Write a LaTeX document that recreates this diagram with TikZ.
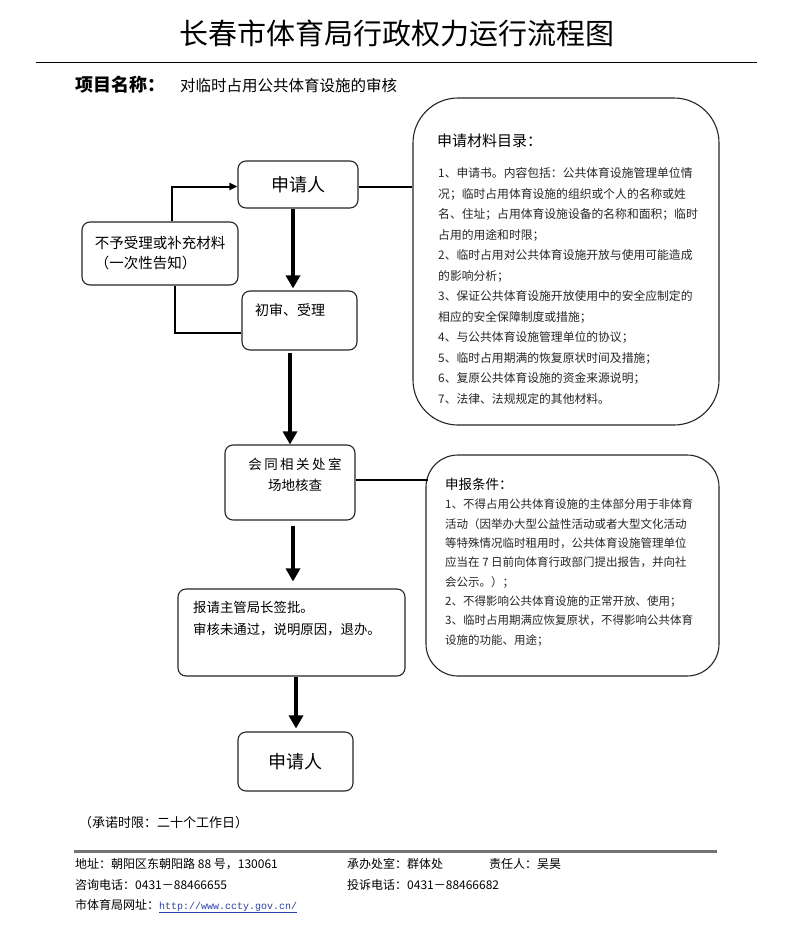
\documentclass[tikz,border=0pt]{standalone}
\usepackage{fontspec}
\setmainfont{Noto Sans CJK SC}
\newfontfamily\urlfont{Liberation Mono}
\usetikzlibrary{arrows.meta,calc}
\newcommand\myfs[2]{\fontsize{#1}{#2}\selectfont}
\definecolor{linkblue}{HTML}{2B3FA8}
\tikzset{
  flowbox/.style={draw=black!85, line width=1.1pt, rounded corners=8pt, inner sep=0pt},
  bigbox/.style={draw=black!85, line width=1.1pt, inner sep=0pt},
  txt/.style={inner sep=0pt, text=black},
  thickarrow/.style={line width=4pt, -{Triangle[length=13pt,width=14pt]}},
  thinline/.style={line width=2pt},
  thinarrow/.style={line width=2pt, -{Triangle[length=8pt,width=7pt]}},
}
\begin{document}
\begin{tikzpicture}[x=1pt,y=-1pt]
\useasboundingbox (0,0) rectangle (792,948);
\fill[white] (0,0) rectangle (792,948);

% title and header
\node[txt, font=\myfs{29}{32}] (title) at (397,33) {长春市体育局行政权力运行流程图};
\draw[line width=1pt] (36,62) -- (757,62);
\node[txt, anchor=west, font=\myfs{18}{20}\bfseries] (projlabel) at (75,85) {项目名称：};
\node[txt, anchor=west, font=\myfs{15.5}{18}] (projname) at (180,86) {对临时占用公共体育设施的审核};

% flow boxes
\node[flowbox, minimum width=120pt, minimum height=47pt, font=\myfs{18}{20}] (app1) at (298,184.5) {申请人};
\node[flowbox, minimum width=156pt, minimum height=63pt, align=left, font=\myfs{14.5}{20}] (reject) at (160,253.5) {不予受理或补充材料\\（一次性告知）};
\node[flowbox, minimum width=115pt, minimum height=59pt] (review) at (299.5,320.5) {};
\node[txt, anchor=west, font=\myfs{14}{16}] (reviewtxt) at (255,310) {初审、受理};
\node[flowbox, minimum width=130pt, minimum height=75pt] (merge) at (290,482.5) {};
\node[txt, align=center, font=\myfs{13.5}{21}] (mergetxt) at (295,474.5) {会\hspace{2.5pt}同\hspace{2.5pt}相\hspace{2.5pt}关\hspace{2.5pt}处\hspace{2.5pt}室\\场地核查};
\node[flowbox, minimum width=227pt, minimum height=87pt] (report) at (291.5,632.5) {};
\node[txt, anchor=west, align=left, font=\myfs{13.4}{22}] (reporttxt) at (193,619) {报请主管局长签批。\\审核未通过，说明原因，退办。};
\node[flowbox, minimum width=115pt, minimum height=59pt, font=\myfs{18}{20}] (app2) at (295.5,761.5) {申请人};

% materials box
\node[bigbox, rounded corners=45pt, minimum width=306pt, minimum height=327pt] (mat) at (566,261.5) {};
\node[txt, anchor=west, font=\myfs{15}{18}] (mattitle) at (437,141) {申请材料目录：};
\node[txt, anchor=west, align=left, text=black!85, font=\myfs{11.8}{20.5}] (mattxt) at (438,286) {%
1、申请书。内容包括：公共体育设施管理单位情\\
况；临时占用体育设施的组织或个人的名称或姓\\
名、住址；占用体育设施设备的名称和面积；临时\\
占用的用途和时限；\\
2、临时占用对公共体育设施开放与使用可能造成\\
的影响分析；\\
3、保证公共体育设施开放使用中的安全应制定的\\
相应的安全保障制度或措施；\\
4、与公共体育设施管理单位的协议；\\
5、临时占用期满的恢复原状时间及措施；\\
6、复原公共体育设施的资金来源说明；\\
7、法律、法规规定的其他材料。};

% conditions box
\node[bigbox, rounded corners=32pt, minimum width=293pt, minimum height=221pt] (cond) at (572.5,565.5) {};
\node[txt, anchor=west, font=\myfs{13.5}{16}] (condtitle) at (445,484) {申报条件：};
\node[txt, anchor=west, align=left, text=black!85, font=\myfs{11.5}{19.3}] (condtxt) at (445,572.5) {%
1、不得占用公共体育设施的主体部分用于非体育\\
活动（因举办大型公益性活动或者大型文化活动\\
等特殊情况临时租用时，公共体育设施管理单位\\
应当在 7 日前向体育行政部门提出报告，并向社\\
会公示。）；\\
2、不得影响公共体育设施的正常开放、使用；\\
3、临时占用期满应恢复原状，不得影响公共体育\\
设施的功能、用途；};

% connectors
\coordinate (xa) at (293,0);
\coordinate (xb) at (290,0);
\coordinate (xc) at (293,0);
\coordinate (xd) at (296,0);
\coordinate (xe) at (172,0);
\coordinate (xf) at (175,0);
\draw[thickarrow, shorten >=2pt] (app1.south -| xa) -- (review.north -| xa);
\draw[thickarrow, shorten <=2pt] (review.south -| xb) -- (merge.north -| xb);
\draw[thickarrow, shorten <=5pt, shorten >=7pt] (merge.south -| xc) -- (report.north -| xc);
\draw[thickarrow, shorten >=3pt] (report.south -| xd) -- (app2.north -| xd);

\coordinate (aw) at ($(app1.west)+(0,2)$);
\draw[thinarrow] (reject.north -| xe) |- (aw);
\coordinate (rw) at ($(review.west)+(0,12.5)$);
\draw[thinline] (reject.south -| xf) |- (rw);
\coordinate (ae) at ($(app1.east)+(0,2.5)$);
\draw[thinline] (ae) -- (ae -| mat.west);
\coordinate (me) at ($(merge.east)+(0,-3)$);
\draw[thinline] (me) -- ($(me -| cond.west)+(3,0)$);

% footer
\node[txt, anchor=west, font=\myfs{13}{16}] (promise) at (79,823) {（承诺时限：二十个工作日）};
\draw[line width=3pt, draw=black!55] (74,851) -- (717,851);
\node[txt, anchor=west, font=\myfs{12}{14}] (addr) at (75,864) {地址：朝阳区东朝阳路 88 号，130061};
\node[txt, anchor=west, font=\myfs{12}{14}] (office) at (347,864) {承办处室：群体处};
\node[txt, anchor=west, font=\myfs{12}{14}] (person) at (489,864) {责任人：吴昊};
\node[txt, anchor=west, font=\myfs{12}{14}] (consult) at (75,885) {咨询电话：0431－88466655};
\node[txt, anchor=west, font=\myfs{12}{14}] (complain) at (347,885) {投诉电话：0431－88466682};
\node[txt, anchor=west, font=\myfs{12}{14}] (web) at (75,906) {市体育局网址：{\urlfont\myfs{10}{12}\color{linkblue}\underline{http://www.ccty.gov.cn/}}};
\end{tikzpicture}
\end{document}
